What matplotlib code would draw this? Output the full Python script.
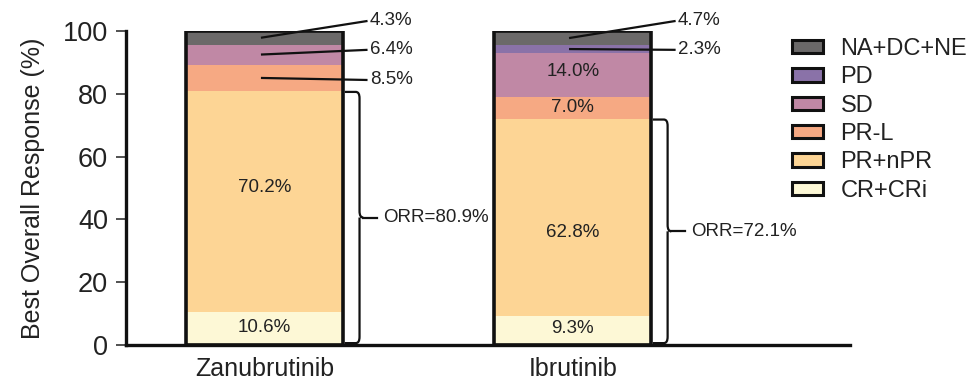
import matplotlib
matplotlib.use("Agg")
import matplotlib.pyplot as plt
from matplotlib.patches import Patch, PathPatch
from matplotlib.path import Path

plt.rcParams['font.family'] = ['Liberation Sans', 'DejaVu Sans']

categories = ["Zanubrutinib", "Ibrutinib"]
series_names = ["CR+CRi", "PR+nPR", "PR-L", "SD", "PD", "NA+DC+NE"]
cr_cri = [10.6, 9.3]
pr_npr = [70.2, 62.8]
pr_l = [8.5, 7.0]
sd = [6.4, 14.0]
pd_ = [0.0, 2.3]
na_dc_ne = [4.3, 4.7]
orr = [80.9, 72.1]
colors = ["#fdf8d6", "#fdd595", "#f6a983", "#c088a5", "#8a72a8", "#6b6969"]

series = [cr_cri, pr_npr, pr_l, sd, pd_, na_dc_ne]

fig = plt.figure(figsize=(9.79, 3.84), dpi=100)
ax = fig.add_axes([126/979, 1-345/384, (850-126)/979, (345-31)/384])

x = [0, 1]
w = 0.51
bottoms = [0.0, 0.0]
seg_bounds = []
for vals, c in zip(series, colors):
    ax.bar(x, vals, w, bottom=bottoms, color=c, edgecolor='none', zorder=2)
    seg_bounds.append([(b, b + v) for b, v in zip(bottoms, vals)])
    bottoms = [b + v for b, v in zip(bottoms, vals)]

ax.bar(x, [min(b, 100) for b in bottoms], w, fill=False, edgecolor='#111111', linewidth=2.6, zorder=3)

ax.set_xlim(-0.45, 1.9)
ax.set_ylim(0, 100)
ax.set_xticks(x)
ax.set_xticklabels(categories, fontsize=18)
ax.tick_params(axis='x', length=0, pad=9)
ax.set_yticks([0, 20, 40, 60, 80, 100])
ax.tick_params(axis='y', labelsize=19.5, length=7, width=1.2, direction='out', pad=6, color='#333333')
for s in ['top', 'right']:
    ax.spines[s].set_visible(False)
for s in ['left', 'bottom']:
    ax.spines[s].set_linewidth(2.4)
    ax.spines[s].set_color('#111111')
ax.set_ylabel("Best Overall Response (%)", fontsize=18, labelpad=13, color='#222222')
for lab in ax.get_xticklabels() + ax.get_yticklabels():
    lab.set_color('#222222')

def pct(v):
    return f"{v:.1f}%"

inside = [(0, 0, 5.7), (1, 0, 50.0), (0, 1, 5.4), (1, 1, 35.7), (3, 1, 87.0), (2, 1, 75.5)]
for si, bi, yy in inside:
    ax.text(x[bi], yy, pct(series[si][bi]), ha='center', va='center', fontsize=13.5, color='#222222', zorder=4)

callouts = [(5, 0, 103.2), (3, 0, 94.0), (2, 0, 84.4), (5, 1, 103.2), (4, 1, 94.0)]
for si, bi, ly in callouts:
    b, t = seg_bounds[si][bi]
    ymid = (b + t) / 2
    x0 = x[bi] - 0.012
    x1 = x[bi] + 0.334
    ax.plot([x0, x1], [ymid, ly], color='#111111', lw=1.6, zorder=5, clip_on=False, solid_capstyle='butt')
    ax.text(x1 + 0.008, ly, pct(series[si][bi]), ha='left', va='center', fontsize=13.5, color='#222222', clip_on=False)

for bi in range(2):
    top = orr[bi] - 0.3
    bot = 0.6
    mid = (top + bot) / 2
    xe = x[bi] + w / 2 + 0.005
    xv = x[bi] + 0.308
    r = 0.012
    ry = 2.0
    verts = [(xe, top), (xv - r, top), (xv, top), (xv, top - ry),
             (xv, mid + ry), (xv, mid), (xv + r, mid),
             (xv, mid), (xv, mid - ry),
             (xv, bot + ry), (xv, bot), (xv - r, bot), (xe, bot)]
    codes = [Path.MOVETO, Path.LINETO, Path.CURVE3, Path.CURVE3,
             Path.LINETO, Path.CURVE3, Path.CURVE3,
             Path.MOVETO, Path.LINETO,
             Path.LINETO, Path.CURVE3, Path.CURVE3, Path.LINETO]
    ax.add_patch(PathPatch(Path(verts, codes), fill=False, lw=1.6, edgecolor='#111111', zorder=5))
    ax.plot([xv + r, xv + 0.058], [mid, mid], color='#111111', lw=1.6)
    ax.text(xv + 0.075, mid, f"ORR={orr[bi]:.1f}%", ha='left', va='center', fontsize=13.5, color='#222222')

handles = [Patch(facecolor=c, edgecolor='#111111', linewidth=2.2, label=n)
           for n, c in zip(series_names, colors)]
handles = handles[::-1]
leg = fig.legend(handles=handles, loc='upper left', bbox_to_anchor=(792/979, 1-38/384), frameon=False,
                 fontsize=17, handlelength=1.3, handleheight=0.5, handletextpad=0.75, labelspacing=0.27,
                 borderaxespad=0, borderpad=0)
for t in leg.get_texts():
    t.set_color('#222222')

fig.savefig("out.png", dpi=100)
